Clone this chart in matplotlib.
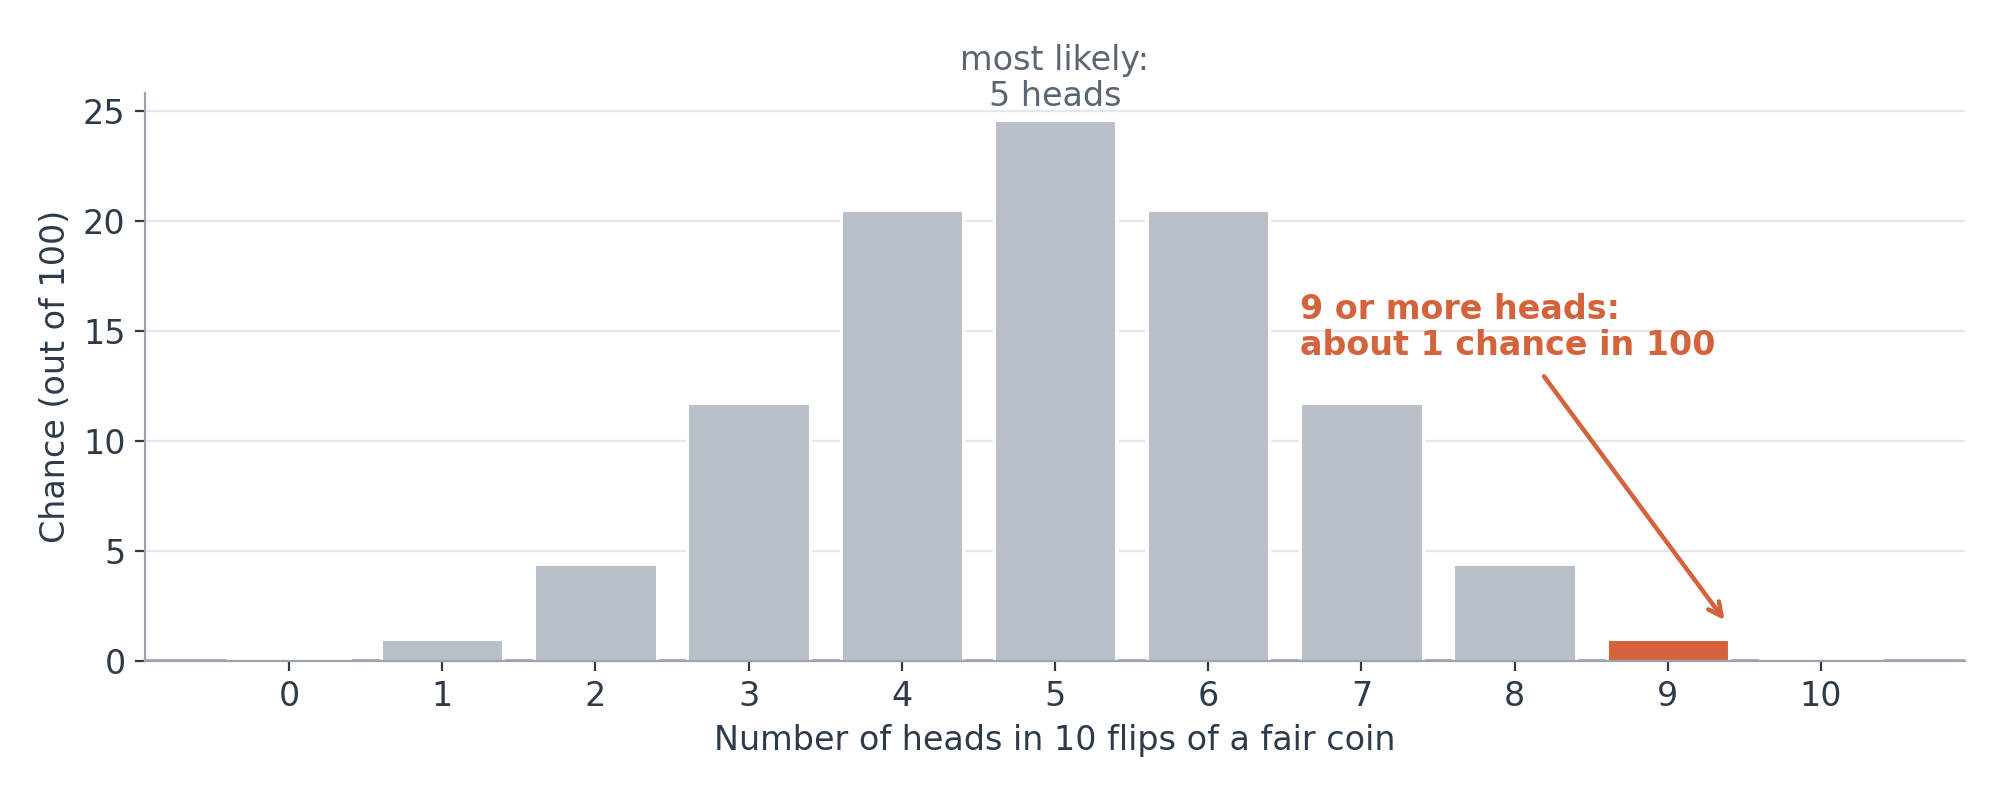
import numpy as np
import matplotlib.pyplot as plt

# chance (out of 100) of k heads in 10 flips
heads = [0, 1, 2, 3, 4, 5, 6, 7, 8, 9, 10]
chance = [0.098, 0.977, 4.395, 11.719, 20.508, 24.609, 20.508, 11.719, 4.395, 0.977, 0.098]
highlight = 9

grey = '#b8bfc9'
orange = '#d4623a'
ink = '#2d3a4a'
soft = '#5a6573'
line = '#9aa3ae'

colors = [orange if k == highlight else grey for k in heads]

fig, ax = plt.subplots(figsize=(10, 4), dpi=200)
fig.subplots_adjust(left=0.0725, right=0.9825, bottom=0.174, top=0.884)

ax.axhline(0, color=line, lw=1.3, zorder=2)
ax.bar(heads, chance, width=0.8, color=colors, edgecolor='white', linewidth=1.1, zorder=3)

ax.set_xticks(heads)
ax.set_yticks([0, 5, 10, 15, 20, 25])
ax.grid(axis='y', color='#e5e8ec', lw=0.8, zorder=0)
ax.set_axisbelow(True)

for s in ['top', 'right']:
    ax.spines[s].set_visible(False)
for s in ['left', 'bottom']:
    ax.spines[s].set_color(line)
    ax.spines[s].set_linewidth(0.8)
ax.spines['bottom'].set_zorder(4)
ax.tick_params(colors=ink, labelsize=12, length=3.5, width=0.8)

ax.set_xlabel('Number of heads in 10 flips of a fair coin', fontsize=12, color=ink)
ax.set_ylabel('Chance (out of 100)', fontsize=12, color=ink)

peak = int(np.argmax(chance))
ax.annotate('most likely:\n5 heads', xy=(heads[peak], chance[peak]), xytext=(0, 2.5),
            textcoords='offset points', ha='center', va='bottom', fontsize=12,
            color=soft, annotation_clip=False, linespacing=1.1)

ax.annotate('9 or more heads:\nabout 1 chance in 100', xy=(9.37, 1.85), xytext=(6.6, 13.6),
            ha='left', va='bottom', fontsize=12, fontweight='bold', color=orange,
            linespacing=1.1,
            arrowprops=dict(arrowstyle='->', color=orange, lw=1.6, shrinkA=4, shrinkB=0))

plt.savefig('out.png')
